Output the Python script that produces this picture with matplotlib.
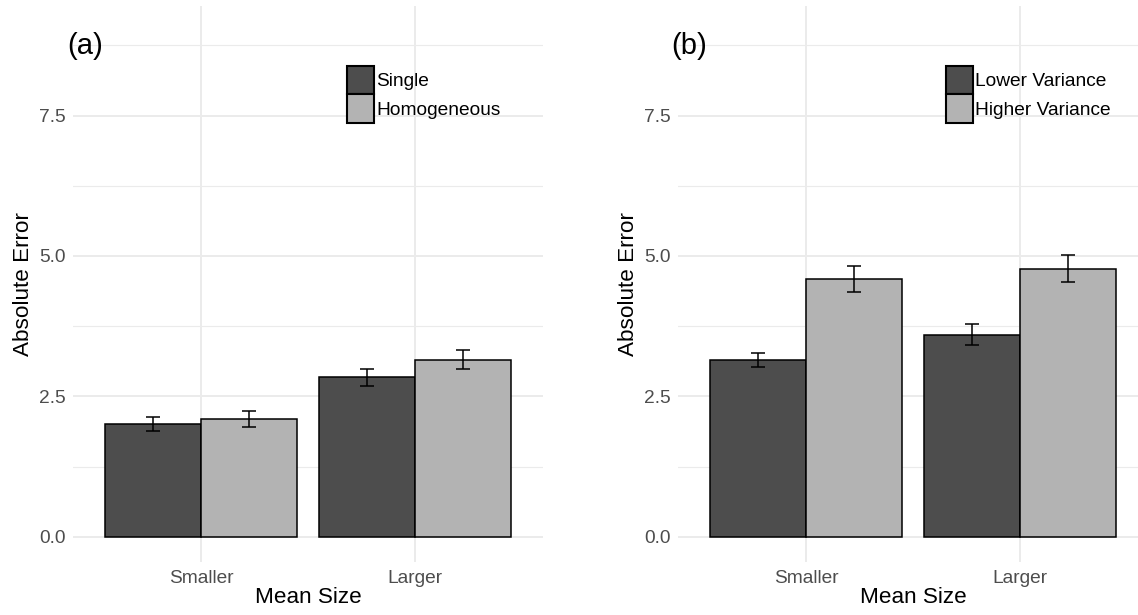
import numpy as np
import matplotlib
matplotlib.use("Agg")
import matplotlib.pyplot as plt
from matplotlib.patches import Patch

plt.rcParams["font.family"] = ["Liberation Sans", "DejaVu Sans"]

# data
sizes = ["Smaller", "Larger"]

single = [2.00, 2.84]
single_lo = [1.88, 2.68]
single_hi = [2.13, 2.99]
homog = [2.09, 3.15]
homog_lo = [1.96, 2.98]
homog_hi = [2.23, 3.32]

lower_var = [3.15, 3.59]
lower_lo = [3.02, 3.41]
lower_hi = [3.27, 3.78]
higher_var = [4.59, 4.76]
higher_lo = [4.36, 4.53]
higher_hi = [4.82, 5.01]

dark = "#4d4d4d"
light = "#b3b3b3"
grid_col = "#ebebeb"

W, H = 1138, 615
fig = plt.figure(figsize=(W / 100, H / 100), dpi=100)


def px_axes(x0, x1, ytop, ybot):
    return fig.add_axes([x0 / W, 1 - ybot / H, (x1 - x0) / W, (ybot - ytop) / H])


def panel(ax, s1, lo1, hi1, s2, lo2, hi2, names, tag, tag_x, leg_x):
    x = np.arange(1, len(sizes) + 1)
    bw = 0.45
    ax.bar(x - bw / 2, s1, width=bw, color=dark, edgecolor="black", linewidth=1.1, zorder=3)
    ax.bar(x + bw / 2, s2, width=bw, color=light, edgecolor="black", linewidth=1.1, zorder=3)
    for xs, m, lo, hi in [(x - bw / 2, s1, lo1, hi1), (x + bw / 2, s2, lo2, hi2)]:
        m = np.array(m)
        err = [m - np.array(lo), np.array(hi) - m]
        ax.errorbar(xs, m, yerr=err, fmt="none", ecolor="black", elinewidth=1.1,
                    capsize=4.7, capthick=1.1, zorder=4)

    ax.set_xlim(0.4, 2.6)
    ax.set_ylim(-0.45, 9.45)
    ax.set_xticks(x)
    ax.set_xticklabels(sizes)
    ax.set_yticks([0, 2.5, 5.0, 7.5])
    ax.set_yticklabels(["0.0", "2.5", "5.0", "7.5"])
    ax.set_yticks([1.25, 3.75, 6.25, 8.75], minor=True)
    ax.set_xticks([], minor=True)
    ax.grid(True, which="major", color=grid_col, linewidth=1.4, zorder=0)
    ax.grid(True, which="minor", axis="y", color=grid_col, linewidth=0.8, zorder=0)
    for sp in ax.spines.values():
        sp.set_visible(False)
    ax.tick_params(which="both", length=0, labelsize=13.8, labelcolor="#4d4d4d")
    ax.tick_params(axis="x", pad=6)
    ax.tick_params(axis="y", pad=5)
    ax.set_xlabel("Mean Size", fontsize=16.2, labelpad=0)
    ax.set_ylabel("Absolute Error", fontsize=16.2, labelpad=4)

    fig.text(tag_x / W, 1 - 46 / H, tag, fontsize=21, va="center", ha="left")

    handles = [Patch(facecolor=dark, edgecolor="black", linewidth=1.5),
               Patch(facecolor=light, edgecolor="black", linewidth=1.5)]
    fig.legend(handles, names, loc="upper left",
               bbox_to_anchor=(leg_x / W, 1 - 66 / H), bbox_transform=fig.transFigure,
               frameon=False, fontsize=13.8, handlelength=1.4, handleheight=1.9,
               handletextpad=0.12, labelspacing=0.0, borderpad=0, borderaxespad=0)


ax1 = px_axes(73, 543, 6, 562)
panel(ax1, single, single_lo, single_hi, homog, homog_lo, homog_hi,
      ["Single", "Homogeneous"], "(a)", 67, 347)

ax2 = px_axes(678, 1148, 6, 562)
panel(ax2, lower_var, lower_lo, lower_hi, higher_var, higher_lo, higher_hi,
      ["Lower Variance", "Higher Variance"], "(b)", 671, 946)

fig.savefig("out.png", dpi=100)
